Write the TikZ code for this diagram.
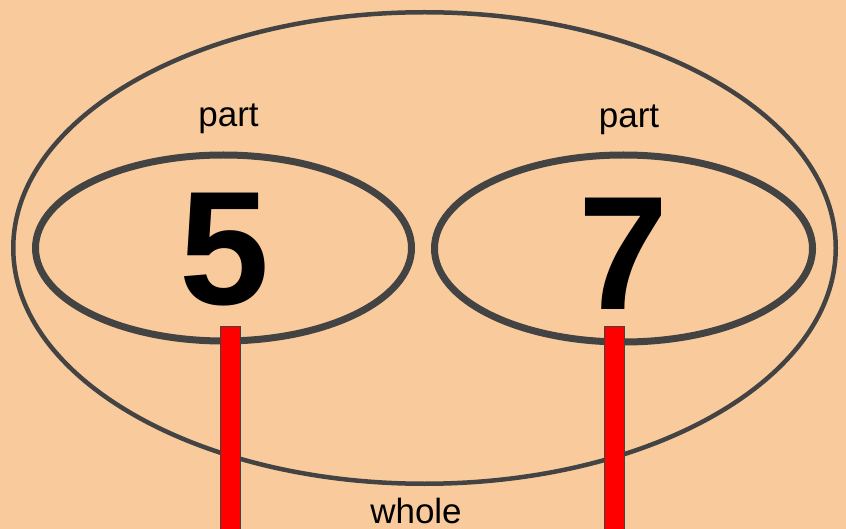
\documentclass[tikz,border=0pt]{standalone}
\usepackage{fontspec}
\setmainfont{Liberation Sans}
\usetikzlibrary{shapes.geometric}
\definecolor{bgpeach}{HTML}{F9CB9C}
\definecolor{linegray}{HTML}{434343}
\begin{document}
\begin{tikzpicture}[x=1pt,y=-1pt,
  bubble/.style={ellipse,draw=linegray,inner sep=0pt},
  lbl/.style={anchor=base,inner sep=0pt,font=\fontsize{35}{35}\selectfont},
  digit/.style={anchor=base,inner sep=0pt,font=\fontsize{162}{162}\selectfont\bfseries},
  bar/.style={anchor=north,fill=red,draw=linegray,line width=1pt,minimum width=20pt,minimum height=215pt,inner sep=0pt}]
\fill[bgpeach] (0,0) rectangle (846,529);
\useasboundingbox (0,0) rectangle (846,529);
\node[bubble,line width=4.5pt,minimum width=822.5pt,minimum height=471.5pt] (whole) at (424.5,248) {};
\node[bubble,line width=7pt,minimum width=376pt,minimum height=186pt] (left) at (223.5,248) {};
\node[bubble,line width=7pt,minimum width=378pt,minimum height=187pt] (right) at (623.5,248.5) {};
\node[digit] (five) at (225,305) {5};
\node[digit] (seven) at (624,310) {7};
\node[lbl] (p1) at (228.5,127) {part};
\node[lbl] (p2) at (629,128) {part};
\node[lbl] (w) at (416,523) {whole};
\node[bar] (b1) at (230,326) {};
\node[bar] (b2) at (614,326) {};
\end{tikzpicture}
\end{document}
